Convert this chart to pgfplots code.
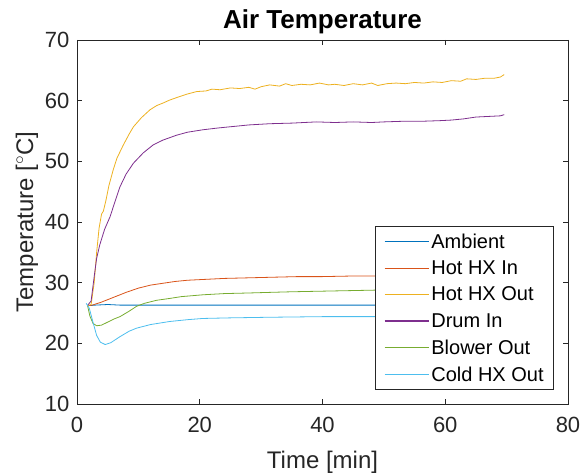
\documentclass[border=0pt]{standalone}
\usepackage{fontspec}
\setmainfont{Liberation Sans}
\usepackage{pgfplots}
\pgfplotsset{compat=1.18}

% MATLAB default line colours
\definecolor{mA}{rgb}{0,0.447,0.741}
\definecolor{mB}{rgb}{0.850,0.325,0.098}
\definecolor{mC}{rgb}{0.929,0.694,0.125}
\definecolor{mD}{rgb}{0.494,0.184,0.556}
\definecolor{mE}{rgb}{0.466,0.674,0.188}
\definecolor{mF}{rgb}{0.301,0.745,0.933}
\definecolor{axgray}{rgb}{0.15,0.15,0.15}

\begin{document}
\begin{tikzpicture}
\begin{axis}[
  name=ax,
  scale only axis,
  width=491pt, height=364pt,
  xmin=0, xmax=80, ymin=10, ymax=70,
  xtick={0,20,...,80}, ytick={10,20,...,70},
  tick align=inside,
  major tick length=5pt,
  axis line style={draw=axgray, line width=0.7pt},
  every tick/.style={draw=axgray, line width=0.7pt},
  /pgf/number format/assume math mode=true,
  tick label style={font=\fontsize{22}{26}\selectfont, text=axgray},
  xticklabel shift=10pt,
  yticklabel shift=4pt,
  title={Air Temperature},
  title style={font=\fontsize{26}{30}\selectfont\bfseries, yshift=-3pt},
  xlabel={Time [min]},
  ylabel={Temperature [$^\circ$C]},
  label style={font=\fontsize{24}{28}\selectfont, text=axgray},
  xlabel style={yshift=-11pt},
  legend cell align=left,
  legend style={
    at={(1,0)}, anchor=south east, xshift=-14pt, yshift=14pt,
    font=\fontsize{20}{24}\selectfont,
    draw=axgray, line width=0.7pt,
    row sep=7pt, inner xsep=8pt, inner ysep=5pt,
  },
  legend image code/.code={\draw[#1, line width=1.6pt] (0pt,0pt) -- (44pt,0pt);},
  every axis plot/.append style={line width=0.8pt},
]
\addplot[mA] coordinates {
(1.7,26.2) (3,26.3) (5,26.4) (7,26.3) (10,26.3) (15,26.3) (20,26.3) (25,26.3)
(30,26.3) (35,26.3) (40,26.3) (45,26.3) (50,26.3) (55,26.3) (60,26.3) (65,26.3) (70,26.3)};
\addlegendentry{Ambient}

\addplot[mB] coordinates {
(1.7,26.2) (2.5,26.3) (4,26.8) (6,27.6) (8,28.4) (10,29.1) (12,29.6) (14,29.9)
(16,30.2) (18,30.4) (20,30.5) (24,30.7) (28,30.8) (32,30.9) (36,31.0) (40,31.0)
(45,31.1) (50,31.1) (55,31.2) (60,31.2) (65,31.3) (70,31.3)};
\addlegendentry{Hot HX In}

\addplot[mC] coordinates {
(1.7,26.2) (2.3,26.4) (2.8,30) (3.2,35) (3.6,39) (4.0,41.3) (4.3,41.8) (4.7,43.5)
(5.2,46) (5.9,48.6) (6.5,50.5) (7.5,52.6) (8.5,54.5) (9.2,55.7) (10.5,57.2)
(11.9,58.5) (13,59.2) (14,59.6) (15.1,60.1) (16.5,60.6) (18,61.1) (19.5,61.5)
(21,61.6) (22,61.9) (23.3,61.8) (25,62.1) (26.5,62.0) (28,62.2) (29,61.9) (30,62.3)
(31.4,62.6) (33,62.4) (34,62.8) (35,62.5) (36.5,62.7) (38,62.6) (39.5,62.9)
(41,62.6) (42,62.7) (43.5,62.5) (45,62.8) (46.5,62.6) (48,62.9) (49,62.5)
(50.5,62.8) (52,62.9) (53.5,62.8) (55,63.0) (56.5,62.9) (58,63.1) (59.5,63.0)
(61,63.3) (62.5,63.2) (63.5,63.6) (65,63.5) (66.5,63.7) (68,63.7) (69,63.9) (69.6,64.3)};
\addlegendentry{Hot HX Out}

\addplot[mD] coordinates {
(1.7,26.2) (2.3,27) (2.8,31) (3.2,34) (3.7,36.2) (4.5,38.8) (5.4,40.9) (6.2,43.4)
(7.0,45.8) (8,47.9) (9.2,49.7) (10.8,51.4) (12.4,52.7) (14,53.5) (16.2,54.3)
(18,54.8) (20.5,55.2) (23,55.5) (26,55.8) (28,56.0) (31.4,56.2) (35,56.3) (39,56.5)
(42,56.4) (45,56.5) (48,56.4) (50,56.5) (53,56.6) (56,56.6) (59,56.7) (61,56.8)
(63,57.0) (65,57.3) (67,57.4) (69,57.5) (69.6,57.7)};
\addlegendentry{Drum In}

\addplot[mE] coordinates {
(1.7,26.3) (2.1,24.5) (2.6,23.3) (3.2,22.9) (4,23.0) (5,23.5) (6,24.0) (7,24.4)
(8.5,25.3) (9.7,26.1) (11,26.6) (13,27.1) (15.1,27.4) (17,27.7) (20.5,28.0)
(24,28.2) (28,28.3) (31.4,28.4) (35,28.5) (40,28.6) (45,28.7) (50,28.8) (55,28.8)
(60,28.9) (65,29.0) (70,29.0)};
\addlegendentry{Blower Out}

\addplot[mF] coordinates {
(1.5,26.6) (2.0,25.8) (2.6,23.5) (3.2,21.3) (3.8,20.2) (4.6,19.8) (5.5,20.1)
(7,21.1) (8.5,22.0) (9.7,22.5) (12,23.1) (15.1,23.6) (18,23.9) (20.5,24.1)
(25,24.2) (31.4,24.3) (40,24.4) (50,24.4) (60,24.5) (70,24.5)};
\addlegendentry{Cold HX Out}
\end{axis}
\pgfresetboundingbox
\path ([shift={(-77pt,-69pt)}]ax.south west) rectangle ([shift={(14pt,40pt)}]ax.north east);
\end{tikzpicture}
\end{document}
